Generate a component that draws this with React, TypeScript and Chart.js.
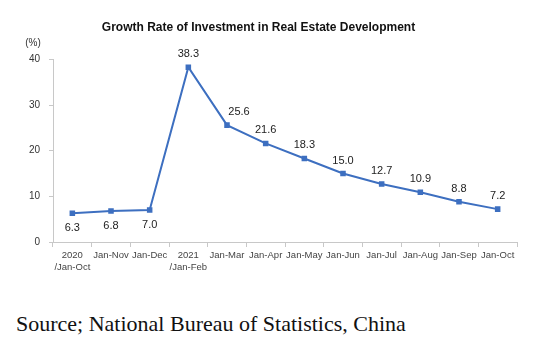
import React, { useEffect, useRef } from "react";
import { Chart, registerables } from "chart.js";

Chart.register(...registerables);

const categories: string[][] = [
  ["2020", "/Jan-Oct"],
  ["Jan-Nov"],
  ["Jan-Dec"],
  ["2021", "/Jan-Feb"],
  ["Jan-Mar"],
  ["Jan-Apr"],
  ["Jan-May"],
  ["Jan-Jun"],
  ["Jan-Jul"],
  ["Jan-Aug"],
  ["Jan-Sep"],
  ["Jan-Oct"],
];
const growthRate: number[] = [6.3, 6.8, 7.0, 38.3, 25.6, 21.6, 18.3, 15.0, 12.7, 10.9, 8.8, 7.2];
const labelBelow: boolean[] = [true, true, true, false, false, false, false, false, false, false, false, false];
const yTicks: number[] = [0, 10, 20, 30, 40];

const FONT = 'Arial, "Liberation Sans", sans-serif';
const LINE_COLOR = "#3d6fc0";

const valueLabels = {
  id: "valueLabels",
  afterDatasetsDraw(chart: any) {
    const ctx = chart.ctx;
    const meta = chart.getDatasetMeta(0);
    ctx.save();
    ctx.font = `11px ${FONT}`;
    ctx.fillStyle = "#222";
    ctx.textAlign = "center";
    ctx.textBaseline = "middle";
    meta.data.forEach((pt: any, i: number) => {
      const v = growthRate[i];
      const y = labelBelow[i] ? pt.y + 15 : pt.y - 13;
      const dx = i === 4 ? 12 : 0;
      ctx.fillText(v.toFixed(1), pt.x + dx, y);
    });
    const ca = chart.chartArea;
    ctx.font = `10px ${FONT}`;
    ctx.fillStyle = "#333";
    ctx.textAlign = "center";
    ctx.fillText("(%)", ca.left - 20, ca.top - 16);
    ctx.restore();
  },
};

export default function App() {
  const ref = useRef<HTMLCanvasElement | null>(null);
  useEffect(() => {
    if (!ref.current) return;
    const chart = new Chart(ref.current, {
      type: "line",
      data: {
        labels: categories,
        datasets: [
          {
            data: growthRate,
            borderColor: LINE_COLOR,
            backgroundColor: LINE_COLOR,
            borderWidth: 2,
            pointStyle: "rect",
            pointRadius: 2.5,
            pointHoverRadius: 2.5,
            tension: 0,
          },
        ],
      },
      options: {
        animation: false,
        responsive: false,
        maintainAspectRatio: false,
        layout: { padding: { left: 0, right: 23, top: 0, bottom: 0 } },
        plugins: {
          legend: { display: false },
          tooltip: { enabled: false },
          title: {
            display: true,
            text: "Growth Rate of Investment in Real Estate Development",
            color: "#111",
            font: { family: FONT, size: 12, weight: "bold" },
            padding: { top: 20, bottom: 25 },
          },
        },
        scales: {
          x: {
            type: "category",
            offset: true,
            grid: {
              offset: true,
              drawOnChartArea: false,
              drawTicks: true,
              tickLength: 5,
              color: "#c8c8c8",
            },
            border: { display: true, color: "#c8c8c8" },
            ticks: {
              color: "#444",
              font: { family: FONT, size: 9.5 },
              padding: 3,
              maxRotation: 0,
              autoSkip: false,
            },
            afterFit: (s: any) => {
              s.height = 48;
            },
          },
          y: {
            min: 0,
            max: 40,
            afterBuildTicks: (s: any) => {
              s.ticks = yTicks.map((v) => ({ value: v }));
            },
            grid: {
              drawOnChartArea: false,
              drawTicks: true,
              tickLength: 4,
              color: "#c8c8c8",
            },
            border: { display: true, color: "#c8c8c8" },
            ticks: {
              color: "#333",
              font: { family: FONT, size: 10 },
              padding: 9,
            },
            afterFit: (s: any) => {
              s.width = 53;
            },
          },
        },
      },
      plugins: [valueLabels],
    });
    return () => chart.destroy();
  }, []);

  return (
    <div style={{ position: "absolute", left: 0, top: 0, width: 540, height: 345, background: "#fff" }}>
      <canvas ref={ref} width={540} height={290} style={{ display: "block", width: 540, height: 290 }} />
      <div
        style={{
          position: "absolute",
          left: 16,
          top: 312,
          fontFamily: '"Liberation Serif", "Times New Roman", serif',
          fontSize: 22,
          color: "#111",
          whiteSpace: "nowrap",
          lineHeight: "24px",
        }}
      >
        Source; National Bureau of Statistics, China
      </div>
    </div>
  );
}
